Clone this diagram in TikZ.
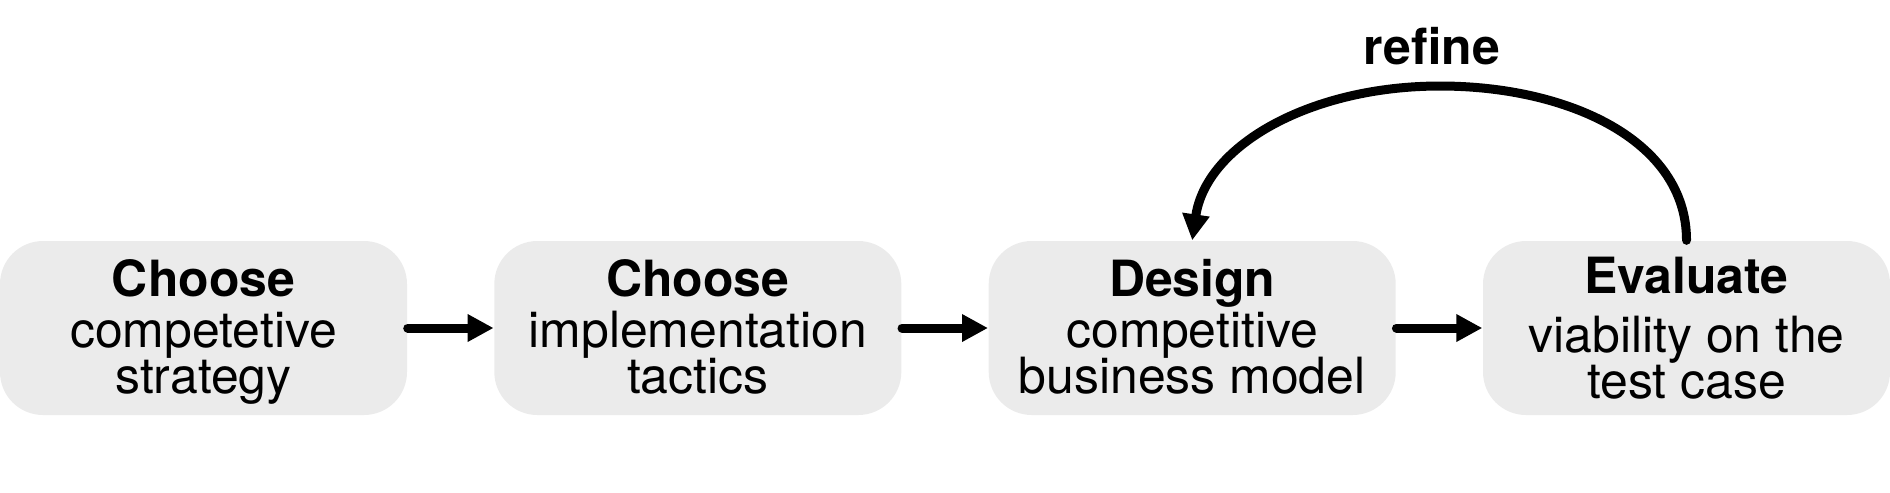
\documentclass[tikz,border=0pt]{standalone}
\usepackage{fontspec}
\setmainfont{TeX Gyre Heros}
\usetikzlibrary{arrows.meta}
\definecolor{boxgray}{RGB}{235,235,235}
\newcommand\myboxfont{\fontsize{14.2pt}{13.1pt}\selectfont\lineskiplimit=-20pt\relax}
\tikzset{
  procbox/.style={fill=boxgray, draw=none, rounded corners=4.3mm,
    minimum width=40.7mm, minimum height=17.4mm, inner sep=0pt,
    align=center, text depth=0.35mm, font=\myboxfont},
  flowarrow/.style={line width=0.9mm, line cap=round,
    -{Triangle[length=2.6mm,width=2.6mm]}},
  looplabel/.style={font=\fontsize{14.2pt}{13.1pt}\selectfont\bfseries, inner sep=0pt}
}
\begin{document}
\begin{tikzpicture}[x=0.1mm,y=0.1mm]
\useasboundingbox (0,0) rectangle (1890,492);
\node[procbox] (cs) at (203.5,164) {\textbf{Choose}\\[0.5mm]competetive\\strategy};
\node[procbox] (ct) at (697.8,164) {\textbf{Choose}\\[0.5mm]implementation\\tactics};
\node[procbox] (ds) at (1192.2,164) {\textbf{Design}\\[0.5mm]competitive\\business model};
\node[procbox, text depth=0pt] (ev) at (1686.5,164) {\textbf{Evaluate}\\[1.3mm]viability on the\\test case};
\draw[flowarrow] (cs.east) -- (ct.west);
\draw[flowarrow] (ct.east) -- (ds.west);
\draw[flowarrow] (ds.east) -- (ev.west);
\coordinate (peak) at (1440,406);
\draw[flowarrow] (ev.north) .. controls +(0,100) and +(128,0) .. (peak)
  .. controls +(-128,0) and +(14,96) .. (ds.north);
\node[looplabel, anchor=base] (refine) at (1432,428) {refine};
\end{tikzpicture}
\end{document}
